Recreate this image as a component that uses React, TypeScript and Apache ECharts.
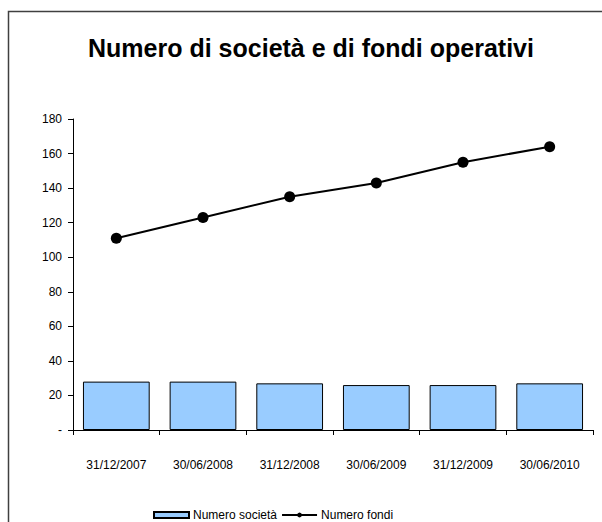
import React, { useEffect, useRef } from "react";
import * as echarts from "echarts";

const categories = ["31/12/2007", "30/06/2008", "31/12/2008", "30/06/2009", "31/12/2009", "30/06/2010"];
const societaValues = [28, 28, 27, 26, 26, 27];
const fondiValues = [111, 123, 135, 143, 155, 164];
const titleText = "Numero di società e di fondi operativi";
const seriesNames = ["Numero società", "Numero fondi"];

export default function App() {
  const ref = useRef<HTMLDivElement>(null);
  useEffect(() => {
    if (!ref.current) return;
    const chart = echarts.init(ref.current, null, { renderer: "svg" });
    const font = "'Liberation Sans', Arial, sans-serif";
    chart.setOption({
      animation: false,
      backgroundColor: "#ffffff",
      textStyle: { fontFamily: font },
      title: {
        text: titleText,
        left: 306,
        top: 30,
        textAlign: "center",
        textStyle: { fontFamily: font, fontSize: 25, fontWeight: "bold", color: "#000" },
      },
      graphic: [
        {
          type: "rect",
          shape: { x: 8.5, y: 11.5, width: 640, height: 600 },
          style: { fill: "none", stroke: "#404040", lineWidth: 1.5 },
          silent: true,
        },
      ],
      legend: {
        left: 153,
        top: 509,
        padding: 0,
        itemGap: 4,
        itemWidth: 35,
        itemHeight: 6,
        textStyle: { fontFamily: font, fontSize: 12, lineHeight: 12, color: "#000", padding: [0, 0, 0, -1] },
        data: [
          { name: seriesNames[0], icon: "rect" },
          { name: seriesNames[1] },
        ],
      },
      grid: { left: 73, right: 9, top: 119, bottom: 92, containLabel: false },
      xAxis: {
        type: "category",
        data: categories,
        boundaryGap: true,
        axisLine: { show: true, lineStyle: { color: "#000", width: 1 } },
        axisTick: { show: true, alignWithLabel: false, length: 5, lineStyle: { color: "#000" } },
        axisLabel: { margin: 29, fontSize: 12, color: "#000", fontFamily: font },
      },
      yAxis: {
        type: "value",
        min: 0,
        max: 180,
        interval: 20,
        splitLine: { show: false },
        axisLine: { show: true, lineStyle: { color: "#000", width: 1 } },
        axisTick: { show: true, length: 5, lineStyle: { color: "#000" } },
        axisLabel: {
          margin: 11,
          fontSize: 12,
          color: "#000",
          fontFamily: font,
          formatter: (v: number) => (v === 0 ? "-" : String(v)),
        },
      },
      series: [
        {
          name: seriesNames[0],
          type: "bar",
          data: societaValues,
          barCategoryGap: "23%",
          itemStyle: { color: "#99CCFF", borderColor: "#000", borderWidth: 1 },
        },
        {
          name: seriesNames[1],
          type: "line",
          data: fondiValues,
          symbol: "circle",
          symbolSize: 11,
          lineStyle: { color: "#000", width: 2 },
          itemStyle: { color: "#000" },
        },
      ],
    });
    return () => chart.dispose();
  }, []);
  return (
    <div
      ref={ref}
      style={{ position: "absolute", left: 0, top: 0, width: 602, height: 522 }}
    />
  );
}
